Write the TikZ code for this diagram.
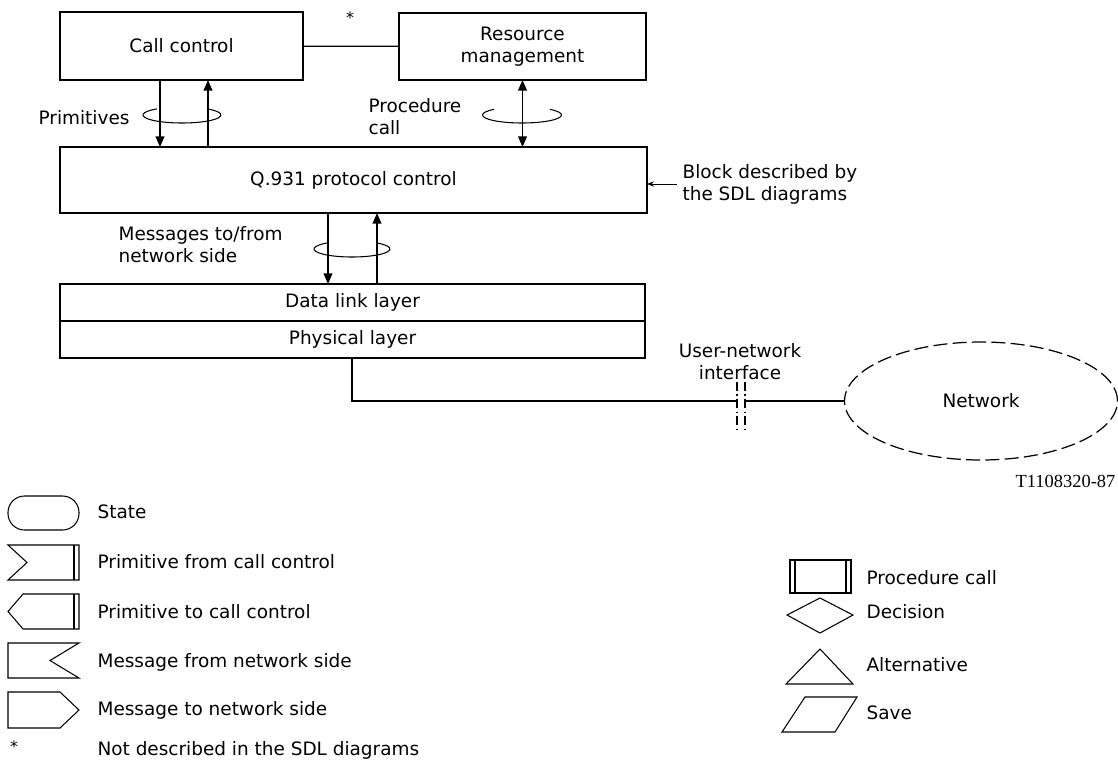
\documentclass[tikz,border=0pt]{standalone}
\usepackage{fontspec}
\setmainfont{DejaVu Sans}
\newfontfamily\tagfont{Liberation Serif}
\usetikzlibrary{shapes.geometric,arrows.meta,positioning}

\begin{document}
\begin{tikzpicture}[
    x=0.02cm, y=-0.02cm,
    font=\fontsize{10.5}{12.5}\selectfont,
    line width=0.7pt,
    block/.style={rectangle, draw, inner sep=0pt, outer sep=0pt,
                  align=center},
    layer/.style={block, minimum width=11.7cm, minimum height=0.74cm},
    flow/.style={-{Triangle[length=6pt,width=5pt]}},
    bundle/.style={line width=0.6pt},
    lbl/.style={anchor=west, align=left, inner sep=0pt},
    sym/.style={line width=0.6pt}
]
\useasboundingbox (0,0) rectangle (1118,778);

% blocks
\node[block, minimum width=4.86cm, minimum height=1.36cm] (cc) at (181.5,46) {Call control};
\node[block, minimum width=4.94cm, minimum height=1.34cm] (rm) at (522.5,46.5) {Resource\\management};
\node[block, minimum width=11.74cm, minimum height=1.32cm] (q931) at (353.5,180) {Q.931 protocol control};
\node[layer] (dll) at (352.5,302.5) {Data link layer};
\node[layer] (phy) at (352.5,339.5) {Physical layer};
\node[ellipse, draw, dash pattern=on 8pt off 3pt, inner sep=0pt,
      minimum width=5.46cm, minimum height=2.36cm] (net) at (981,401) {Network};

% labels
\node (star) at (350,18) {\small *};
\node[lbl] (prim) at (38,118) {Primitives};
\node[lbl] (proc) at (368,117) {Procedure\\call};
\node[lbl] (msgs) at (118,245) {Messages to/from\\network side};
\node[lbl] (bdesc) at (682,184) {Block described by\\the SDL diagrams};
\node[align=center, inner sep=0pt] (uni) at (740,362) {User-network\\interface};
\node[anchor=east, inner sep=0pt, font=\tagfont\fontsize{10.5}{12}\selectfont] (tag) at (1116,481) {T1108320-87};

% connectors
\draw (cc) -- (rm);
\draw[flow] (cc.south -| 160,0) -- (q931.north -| 160,0);
\draw[flow] (q931.north -| 208,0) -- (cc.south -| 208,0);
\draw[{Triangle[length=6pt,width=5pt]}-{Triangle[length=6pt,width=5pt]}] (rm.south) -- (q931.north -| rm.south);
\draw[flow] (q931.south -| 328,0) -- (dll.north -| 328,0);
\draw[flow] (dll.north -| 377,0) -- (q931.south -| 377,0);
\draw[-{Stealth[length=4pt,width=3pt]}, line width=0.5pt] ([xshift=-3pt]bdesc.west) -- (q931.east |- bdesc.west);

% bundles
\draw[bundle] (182,115) ++(130:0.78cm and 0.16cm) arc[start angle=130, end angle=410, x radius=0.78cm, y radius=0.16cm];
\draw[bundle] (522,115) ++(135:0.79cm and 0.16cm) arc[start angle=135, end angle=405, x radius=0.79cm, y radius=0.16cm];
\draw[bundle] (352,249) ++(130:0.76cm and 0.16cm) arc[start angle=130, end angle=410, x radius=0.76cm, y radius=0.16cm];

% user-network interface
\coordinate (uniL) at (737,401);
\coordinate (uniR) at (745,401);
\draw (phy.south -| 352,0) |- (uniL);
\draw (uniR) -- (net.west);
\draw[line width=0.9pt, dash pattern=on 5pt off 2pt on 0.8pt off 2pt] (737,382) -- (737,433);
\draw[line width=0.9pt, dash pattern=on 5pt off 2pt on 0.8pt off 2pt] (745,382) -- (745,433);

% legend, left
\draw[sym, rounded corners=0.33cm] (8,496) rectangle (79,530);
\draw[sym] (8,545) -- (79,545) -- (79,580) -- (8,580) -- (27,562.5) -- cycle;
\draw[sym] (74,545) -- (74,580);
\draw[sym] (23,594) -- (79,594) -- (79,629) -- (23,629) -- (8,611.5) -- cycle;
\draw[sym] (74,594) -- (74,629);
\draw[sym] (8,643) -- (79,643) -- (50,660.5) -- (79,678) -- (8,678) -- cycle;
\draw[sym] (8,692) -- (60,692) -- (79,710) -- (60,728) -- (8,728) -- cycle;
\node (lgstar) at (14,747) {\small *};

\node[lbl] (lgstate) at (97,512) {State};
\node[lbl] (lgpfrom) at (97,562) {Primitive from call control};
\node[lbl] (lgpto) at (97,612) {Primitive to call control};
\node[lbl] (lgmfrom) at (97,662) {Message from network side};
\node[lbl] (lgmto) at (97,710) {Message to network side};
\node[lbl] (lgnot) at (97,750) {Not described in the SDL diagrams};

% legend, right
\draw[sym] (790,560) rectangle (851,593);
\draw[sym] (795,560) -- (795,593);
\draw[sym] (846,560) -- (846,593);
\draw[sym] (787,615) -- (820,598) -- (853,615) -- (820,633) -- cycle;
\draw[sym] (786,684) -- (820,649) -- (853,684) -- cycle;
\draw[sym] (782,732) -- (805,697) -- (857,697) -- (835,732) -- cycle;

\node[lbl] (lgproc) at (866,578) {Procedure call};
\node[lbl] (lgdec) at (866,612) {Decision};
\node[lbl] (lgalt) at (866,665) {Alternative};
\node[lbl] (lgsave) at (866,713) {Save};
\end{tikzpicture}
\end{document}
